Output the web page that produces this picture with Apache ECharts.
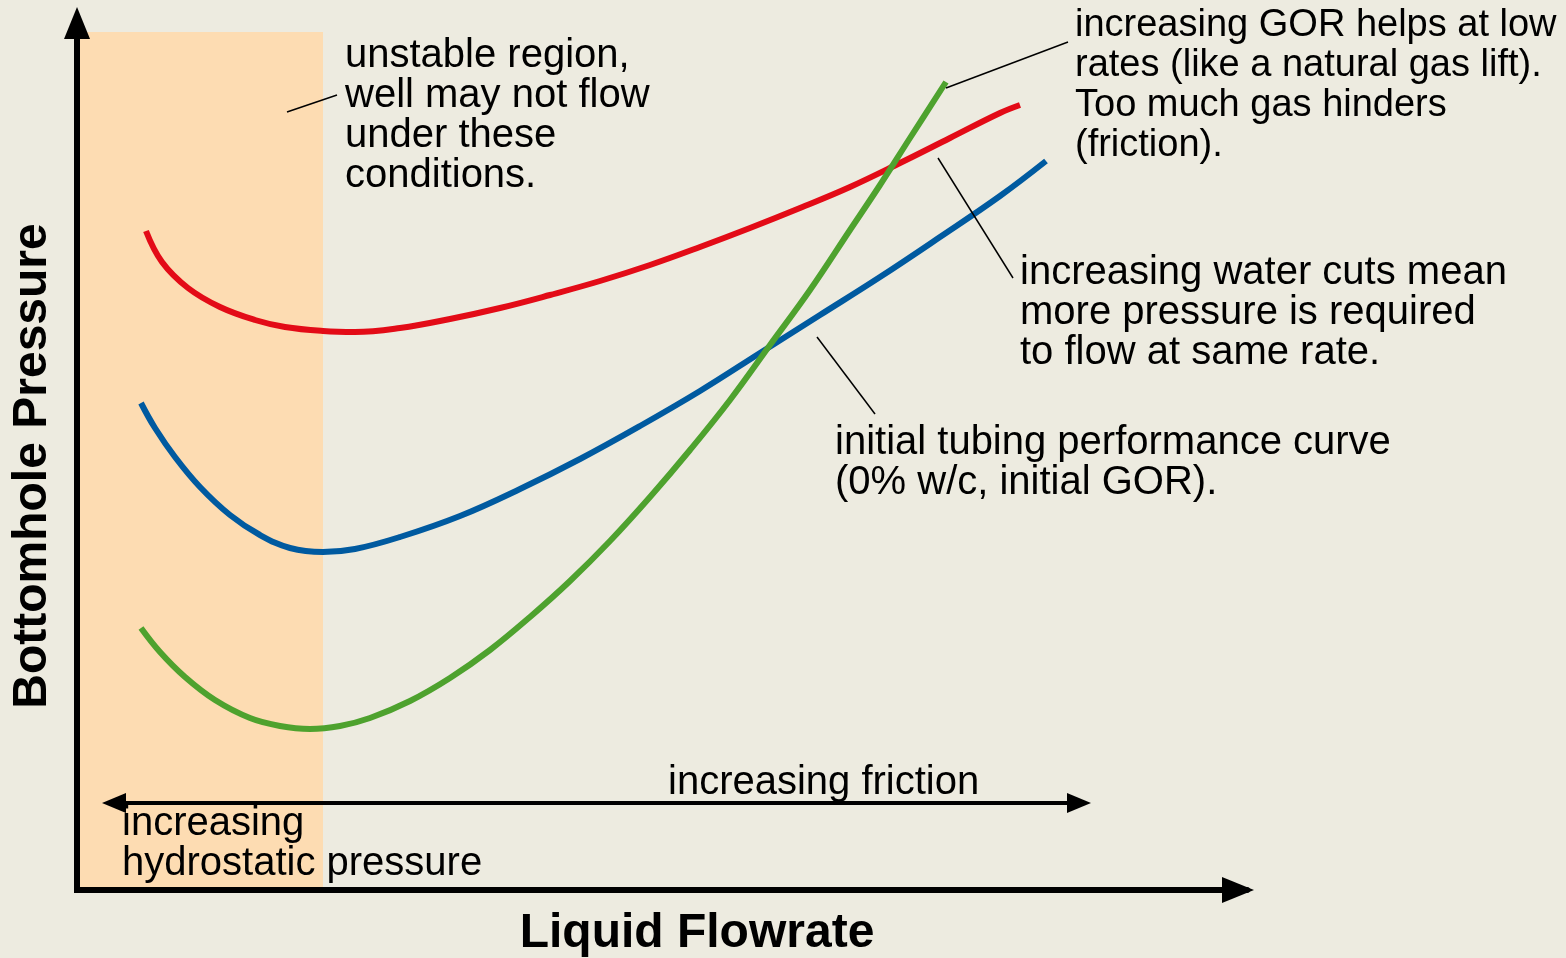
<!DOCTYPE html>
<html>
<head>
<meta charset="utf-8">
<script src="https://cdn.jsdelivr.net/npm/echarts@6/dist/echarts.min.js"></script>
<style>
  html, body { margin: 0; padding: 0; background: #edebe0; }
  #chart { width: 1566px; height: 958px; }
</style>
</head>
<body>
<div id="chart"></div>
<script>
// schematic units: flowrate 0..117, pressure 0..87
const redFlow = [6.9, 8.5, 11.1, 14.3, 17.8, 20.8, 24.6, 27.8, 32.3, 37.3, 42.3, 47.3, 52.3, 57.3, 62.3, 67.3, 72.3, 77.3, 82.3, 87.3, 92.3, 94.3]
const redPressure = [65.9, 62.8, 60.2, 58.3, 57.0, 56.3, 55.9, 55.8, 56.2, 57.1, 58.2, 59.5, 60.9, 62.5, 64.3, 66.2, 68.2, 70.3, 72.7, 75.2, 77.7, 78.5]

const blueFlow = [6.4, 7.8, 9.8, 12.3, 15.3, 18.3, 21.3, 24.6, 27.8, 32.3, 38.3, 44.3, 50.3, 56.3, 62.3, 68.3, 74.3, 80.3, 86.3, 92.3, 96.9]
const bluePressure = [48.7, 46.2, 43.3, 40.3, 37.5, 35.5, 34.2, 33.8, 34.1, 35.3, 37.4, 40.1, 43.1, 46.4, 49.9, 53.7, 57.5, 61.3, 65.3, 69.4, 72.9]

const greenFlow = [6.4, 8.3, 10.8, 13.8, 17.3, 20.3, 23.3, 26.3, 29.3, 33.3, 37.3, 41.3, 45.3, 49.3, 53.3, 57.3, 61.3, 65.3, 69.3, 73.3, 77.3, 80.3, 83.3, 86.9]
const greenPressure = [26.2, 23.8, 21.3, 19.0, 17.2, 16.4, 16.1, 16.4, 17.2, 18.9, 21.2, 24.0, 27.3, 30.9, 34.9, 39.3, 44.0, 49.0, 54.5, 60.0, 66.0, 70.5, 75.2, 80.8]

// unstable region [flow from, flow to], [pressure from, pressure to]
const unstableFlow = [0, 24.6]
const unstablePressure = [0, 85.8]

// leader lines from annotations to curves: [[flow, pressure], [flow, pressure]]
const leaders = [
  [[21.0, 77.8], [26.0, 79.5]],
  [[86.9, 80.2], [99.1, 84.8]],
  [[86.1, 73.2], [93.6, 61.2]],
  [[74.0, 55.3], [79.8, 47.6]],
]

// double arrow "increasing friction" / "increasing hydrostatic pressure"
const arrowFlow = [3.7, 100.2]
const arrowPressure = 8.7

const zip = (xs, ys) => xs.map((x, i) => [x, ys[i]])

const FONT = '"Liberation Sans", Arial, Helvetica, sans-serif'

const chart = echarts.init(document.getElementById('chart'))

const axisCommon = {
  type: 'value',
  z: 10,
  axisLabel: { show: false },
  axisTick: { show: false },
  splitLine: { show: false },
  axisLine: {
    show: true,
    symbol: ['none', 'triangle'],
    symbolSize: [26, 32],
    lineStyle: { color: '#000', width: 6 },
  },
}

const curve = (name, color, data) => ({
  name,
  type: 'line',
  data,
  smooth: 0.4,
  symbol: 'none',
  lineStyle: { color, width: 6 },
  z: 3,
})

const text = (x, y, str, size) => ({
  type: 'text',
  x,
  y,
  z: 20,
  style: {
    text: str,
    fill: '#000',
    fontSize: size || 40,
    fontFamily: FONT,
    lineHeight: 40,
    align: 'left',
    verticalAlign: 'top',
  },
})

chart.setOption({
  backgroundColor: '#edebe0',
  animation: false,
  grid: { left: 77, top: 20, width: 1170, height: 870, containLabel: false },
  xAxis: {
    ...axisCommon,
    min: 0,
    max: 117,
    axisLine: { ...axisCommon.axisLine, symbolOffset: [0, -9] },
  },
  yAxis: {
    ...axisCommon,
    min: 0,
    max: 87,
    axisLine: { ...axisCommon.axisLine, symbolOffset: [0, -3], lineStyle: { color: '#000', width: 6, cap: 'square' } },
  },
  series: [
    {
      name: 'unstable',
      type: 'line',
      data: [],
      markArea: {
        silent: true,
        itemStyle: { color: '#fddcb2' },
        data: [[
          { coord: [unstableFlow[0], unstablePressure[0]] },
          { coord: [unstableFlow[1], unstablePressure[1]] },
        ]],
      },
    },
    curve('water cut', '#e30b17', zip(redFlow, redPressure)),
    curve('initial', '#005aa0', zip(blueFlow, bluePressure)),
    curve('GOR', '#4ea22e', zip(greenFlow, greenPressure)),
    {
      name: 'notes',
      type: 'line',
      data: [],
      markLine: {
        silent: true,
        symbol: 'none',
        label: { show: false },
        lineStyle: { color: '#000', width: 1.5, type: 'solid' },
        data: leaders.map(([a, b]) => [{ coord: a }, { coord: b }]),
      },
    },
    {
      name: 'friction',
      type: 'line',
      data: [],
      markLine: {
        silent: true,
        symbol: ['triangle', 'triangle'],
        label: { show: false },
        lineStyle: { color: '#000', width: 4, type: 'solid' },
        data: [[
          { coord: [arrowFlow[0], arrowPressure], symbol: 'triangle', symbolSize: [20, 24] },
          { coord: [arrowFlow[1], arrowPressure], symbol: 'triangle', symbolSize: [20, 24] },
        ]],
      },
    },
  ],
  graphic: [
    text(345, 36, 'unstable region,\nwell may not flow\nunder these\nconditions.'),
    text(1075, 6, 'increasing GOR helps at low\nrates (like a natural gas lift).\nToo much gas hinders\n(friction).', 38),
    text(1020, 253, 'increasing water cuts mean\nmore pressure is required\nto flow at same rate.'),
    text(835, 423, 'initial tubing performance curve\n(0% w/c, initial GOR).'),
    text(668, 763, 'increasing friction'),
    text(122, 804, 'increasing\nhydrostatic pressure'),
    {
      type: 'text',
      x: 697,
      y: 934,
      z: 20,
      style: {
        text: 'Liquid Flowrate',
        fill: '#000',
        font: 'bold 48px ' + FONT,
        align: 'center',
        verticalAlign: 'middle',
      },
    },
    {
      type: 'text',
      x: 33,
      y: 466,
      rotation: Math.PI / 2,
      z: 20,
      style: {
        text: 'Bottomhole Pressure',
        fill: '#000',
        font: 'bold 48px ' + FONT,
        align: 'center',
        verticalAlign: 'middle',
      },
    },
  ],
})
</script>
</body>
</html>
